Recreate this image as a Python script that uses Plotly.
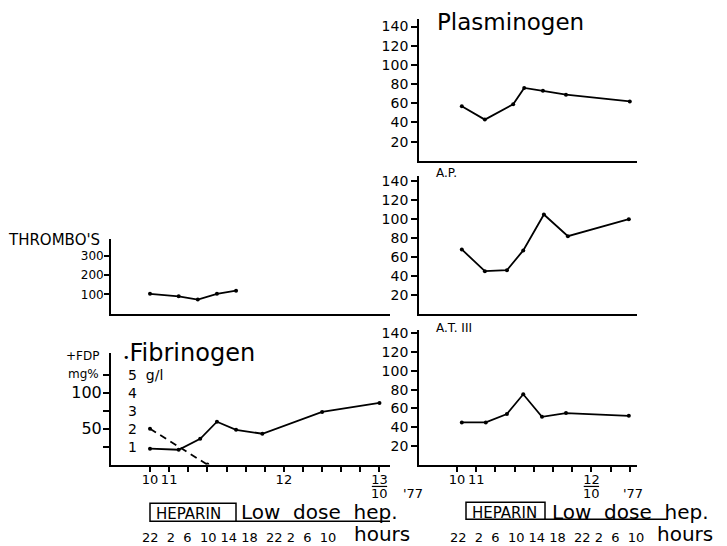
import plotly.graph_objects as go

W, H = 727, 546

# Sampling times in hours, counted from 0:00 on the 10th
thrombo_t = [22, 28, 32, 36, 40]
thrombo_v = [103, 90, 73, 103, 119]

fib_t = [22, 28, 32.5, 36, 40, 45.5, 58, 70]
fib_v = [0.89, 0.83, 1.44, 2.39, 1.94, 1.72, 2.94, 3.44]   # g/l

fdp_t = [22, 34]
fdp_v = [50, 0]                                            # mg%

plasm_t = [23, 27.8, 33.7, 36, 39.9, 44.7, 58]
plasm_v = [57, 43, 59, 76, 73, 69, 62]

ap_t = [23, 27.8, 32.4, 35.8, 40.1, 45.1, 57.8]
ap_v = [68, 45, 46, 67, 105, 82, 100]

at3_t = [23, 28, 32.4, 35.8, 39.7, 44.7, 57.8]
at3_v = [45, 45, 54, 75, 51, 55, 52]

# 4-hourly ticks and their day labels
left_ticks = list(range(22, 71, 4))
right_ticks = list(range(22, 59, 4))
left_day_labels = {22: "10", 26: "11", 50: "12", 70: "13"}
right_day_labels = {22: "10", 26: "11", 50: "12"}
left_month_at = 70
right_month_at = 50
hours_row = "22  2  6  10 14 18  22 2  6  10"

pct_ticks = [20, 40, 60, 80, 100, 120, 140]
thrombo_ticks = [100, 200, 300]
gl_ticks = [1, 2, 3, 4, 5]
gl_text = ["1", "2", "3", "4", "5  g/l"]
mg_ticks = [50, 100]

FONT = "DejaVu Sans"


def fx(p):
    return p / W


def fy(p):
    return 1 - p / H


LEFT_DOM = [fx(111), fx(390)]
RIGHT_DOM = [fx(419), fx(637)]
LEFT_RANGE = [13.84, 72.2]
RIGHT_RANGE = [14.08, 59.5]

mark_style = dict(color="black", size=4)

fig = go.Figure()


def add_series(t, v, xa, ya, dash="solid"):
    fig.add_trace(go.Scatter(
        x=t, y=v, xaxis=xa, yaxis=ya, mode="lines+markers",
        line=dict(color="black", width=1.8, dash=dash),
        marker=mark_style, showlegend=False, hoverinfo="skip"))


add_series(thrombo_t, thrombo_v, "x", "y")
add_series(fib_t, fib_v, "x2", "y2")
add_series(fdp_t, fdp_v, "x2", "y3", dash="7px,5px")
add_series(plasm_t, plasm_v, "x3", "y4")
add_series(ap_t, ap_v, "x4", "y5")
add_series(at3_t, at3_v, "x5", "y6")

axis_base = dict(showline=True, linecolor="black", linewidth=1.8,
                 showgrid=False, zeroline=False, mirror=False,
                 tickfont=dict(family=FONT, size=14, color="black"),
                 tickcolor="black", ticklen=6, tickwidth=1.5)

x_plain = dict(axis_base, ticks="", showticklabels=False)
x_ticked = dict(axis_base, ticks="outside", ticklen=5, ticklabelstandoff=-3,
                tickfont=dict(family=FONT, size=13, color="black"))

fig.update_layout(
    width=W, height=H, autosize=False,
    margin=dict(l=0, r=0, t=0, b=0),
    paper_bgcolor="white", plot_bgcolor="white",
    showlegend=False,
    # left column
    xaxis=dict(x_plain, domain=LEFT_DOM, range=LEFT_RANGE, anchor="y"),
    yaxis=dict(axis_base, domain=[fy(312), fy(237)], range=[0, 385],
               anchor="x", ticks="outside", tickvals=thrombo_ticks,
               ticklen=5, ticklabelstandoff=-2,
               tickfont=dict(family=FONT, size=12, color="black")),
    xaxis2=dict(x_ticked, domain=LEFT_DOM, range=LEFT_RANGE, anchor="y2",
                tickvals=left_ticks,
                ticktext=[left_day_labels.get(t, "") for t in left_ticks]),
    yaxis2=dict(axis_base, domain=[fy(464), fy(352)], range=[0, 6.2],
                anchor="x2", ticks="outside", tickvals=gl_ticks,
                showticklabels=False),
    yaxis3=dict(axis_base, overlaying="y2", anchor="x2", side="left",
                range=[0, 155], showline=False, ticks="outside",
                tickvals=mg_ticks, ticklen=6, ticklabelstandoff=-1,
                tickfont=dict(family=FONT, size=16, color="black")),
    # right column
    xaxis3=dict(x_plain, domain=RIGHT_DOM, range=RIGHT_RANGE, anchor="y4"),
    yaxis4=dict(axis_base, domain=[fy(158), fy(15)], range=[0, 148],
                anchor="x3", ticks="outside", tickvals=pct_ticks),
    xaxis4=dict(x_plain, domain=RIGHT_DOM, range=RIGHT_RANGE, anchor="y5"),
    yaxis5=dict(axis_base, domain=[fy(312), fy(173)], range=[0, 146],
                anchor="x4", ticks="outside", tickvals=pct_ticks),
    xaxis5=dict(x_ticked, domain=RIGHT_DOM, range=RIGHT_RANGE, anchor="y6",
                tickvals=right_ticks,
                ticktext=[right_day_labels.get(t, "") for t in right_ticks]),
    yaxis6=dict(axis_base, domain=[fy(464), fy(328)], range=[0, 144],
                anchor="x5", ticks="outside", tickvals=pct_ticks),
)


def note(text, x, y, size, anchor="left", weight="normal"):
    fig.add_annotation(text=text, x=fx(x), y=fy(y), xref="paper", yref="paper",
                       xanchor=anchor, yanchor="middle", showarrow=False,
                       font=dict(family=FONT, size=size, color="black",
                                 weight=weight))


# g/l scale written just inside the fibrinogen axis
for v, t in zip(gl_ticks, gl_text):
    fig.add_annotation(text=t, x=fx(126), y=v, xref="paper", yref="y2",
                       xanchor="left", yanchor="middle", showarrow=False,
                       font=dict(family=FONT, size=14, color="black"))

# day/month fraction under the last day label of each time axis
for xa, t in [("x2", left_month_at), ("x5", right_month_at)]:
    fig.add_shape(type="line", xref=xa, yref="paper",
                  x0=t - 1.6, x1=t + 1.6, y0=fy(486), y1=fy(486),
                  line=dict(color="black", width=1.2))
    fig.add_annotation(text="10", x=t, y=fy(493), xref=xa, yref="paper",
                       xanchor="center", yanchor="middle", showarrow=False,
                       font=dict(family=FONT, size=13, color="black"))

note("Plasminogen", 435, 18, 23)
note("A.P.", 434, 170, 12)
note("A.T. III", 434, 326, 12)
note("THROMBO'S", 6, 238, 15)
note("+FDP", 64, 355, 12)
note("mg%", 66, 373, 12)
note("<span style='font-size:11px'>•</span>Fibrinogen", 121, 352, 24)
note("'77", 401, 493, 13)
note("'77", 621, 493, 13)

# heparin period boxes and the low-dose underline
for bx0, bx1, by0, by1, ux1, tx, hx, hours_x in [
        (150, 236, 503, 521, 390, 239, 352, 140),
        (466, 545, 502, 519, 668, 550, 655, 448)]:
    fig.add_shape(type="rect", xref="paper", yref="paper",
                  x0=fx(bx0), x1=fx(bx1), y0=fy(by1), y1=fy(by0),
                  line=dict(color="black", width=1.5))
    fig.add_shape(type="line", xref="paper", yref="paper",
                  x0=fx(bx1), x1=fx(ux1), y0=fy(by1), y1=fy(by1),
                  line=dict(color="black", width=1.5))
    note("HEPARIN", bx0 + 4, by0 + 11, 15)
    note("Low  dose  hep.", tx, 512, 20)
    note(hours_row, hours_x, 537, 13)
    note("hours", hx, 534, 20)

fig.write_html("out.html")
